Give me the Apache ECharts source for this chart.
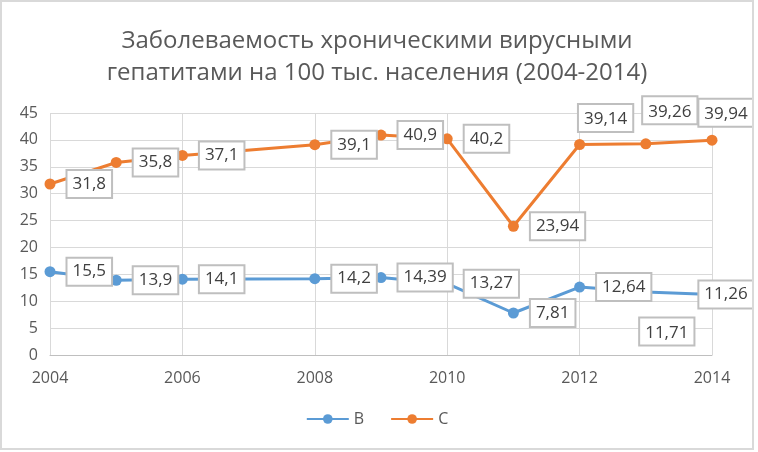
<!DOCTYPE html>
<html>
<head>
<meta charset="utf-8">
<script src="https://cdn.jsdelivr.net/npm/echarts@6/dist/echarts.min.js"></script>
<style>
html,body{margin:0;padding:0;background:#fff;}
#c{position:absolute;left:0;top:0;width:750px;height:446px;border:2px solid #d9d9d9;}
</style>
</head>
<body>
<div id="c"></div>
<script>
var years = [2004, 2005, 2006, 2008, 2009, 2010, 2011, 2012, 2013, 2014];
var seriesB = [15.5, 13.9, 14.1, 14.2, 14.39, 13.27, 7.81, 12.64, 11.71, 11.26];
var seriesC = [31.8, 35.8, 37.1, 39.1, 40.9, 40.2, 23.94, 39.14, 39.26, 39.94];
var xTicks = [2004, 2006, 2008, 2010, 2012, 2014];
var titleText = 'Заболеваемость хроническими вирусными\nгепатитами на 100 тыс. населения (2004-2014)';

var FONT = 'Open Sans';
function fmt(p){ return String(p.value[1]).replace('.', ','); }
var baseLabel = {
  show: true, position: 'right', distance: 12,
  formatter: fmt, color: '#404040', fontSize: 17, lineHeight: 19, fontFamily: FONT,
  backgroundColor: '#fff', borderColor: '#bfbfbf', borderWidth: 2,
  padding: [5, 5, 2, 5]
};
// per-point label placement overrides (index -> label options)
var overB = {
  8: {position: 'bottom', distance: 21, offset: [21, 0]},
  9: {position: 'inside', offset: [14, 0]}
};
var overC = {
  7: {position: 'top', distance: 8, offset: [26, 0]},
  8: {position: 'top', distance: 15, offset: [24, 0]},
  9: {position: 'top', distance: 9, offset: [14, 0]}
};
function build(vals, over){
  return years.map(function(y, i){
    var item = {value: [y, vals[i]]};
    if (over[i]) item.label = over[i];
    return item;
  });
}

var chart = echarts.init(document.getElementById('c'));
chart.setOption({
  animation: false,
  title: {
    text: titleText, left: 'center', top: 18,
    textStyle: {fontFamily: FONT, fontSize: 24, fontWeight: 'normal', color: '#595959', lineHeight: 32}
  },
  legend: {
    bottom: 16, left: 'center', itemWidth: 42, itemHeight: 12, itemGap: 26,
    textStyle: {fontFamily: FONT, fontSize: 16, color: '#595959'},
    data: ['B', 'C']
  },
  grid: {left: 48, right: 40, top: 111, bottom: 93, containLabel: false},
  xAxis: {
    type: 'value', min: 2004, max: 2014, interval: 2,
    axisLine: {show: true, lineStyle: {color: '#bfbfbf', width: 1}},
    axisTick: {show: false},
    splitLine: {show: true, lineStyle: {color: '#d9d9d9'}},
    axisLabel: {color: '#595959', fontSize: 16, fontFamily: FONT, margin: 15,
      formatter: function(v){ return xTicks.indexOf(v) >= 0 ? String(v) : ''; }}
  },
  yAxis: {
    type: 'value', min: 0, max: 45, interval: 5,
    axisLine: {show: false}, axisTick: {show: false},
    splitLine: {show: true, lineStyle: {color: '#d9d9d9'}},
    axisLabel: {color: '#595959', fontSize: 16, fontFamily: FONT, margin: 12}
  },
  series: [
    {name: 'B', type: 'line', data: build(seriesB, overB), symbol: 'circle', symbolSize: 11,
     lineStyle: {width: 3, color: '#5b9bd5'}, itemStyle: {color: '#5b9bd5'}, label: baseLabel, z: 3},
    {name: 'C', type: 'line', data: build(seriesC, overC), symbol: 'circle', symbolSize: 11,
     lineStyle: {width: 3, color: '#ed7d31'}, itemStyle: {color: '#ed7d31'}, label: baseLabel, z: 3}
  ]
});
</script>
</body>
</html>
